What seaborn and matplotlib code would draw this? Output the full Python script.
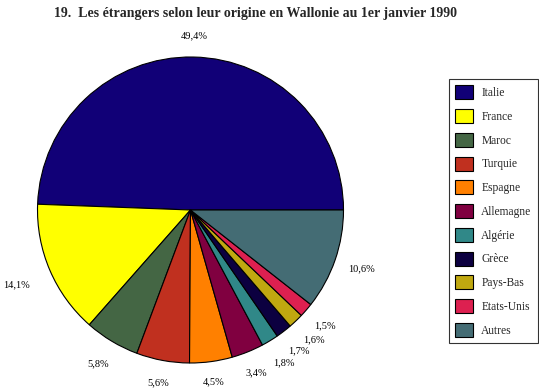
import matplotlib
matplotlib.use("Agg")
import matplotlib.pyplot as plt
import matplotlib.patches as mpatches
import seaborn as sns

countries = ["Italie", "France", "Maroc", "Turquie", "Espagne", "Allemagne",
             "Algérie", "Grèce", "Pays-Bas", "Etats-Unis", "Autres"]
shares = [49.4, 14.1, 5.8, 5.6, 4.5, 3.4, 1.8, 1.7, 1.6, 1.5, 10.6]
colors = ["#110077", "#ffff00", "#446644", "#c0301f", "#ff8000", "#800040",
          "#308888", "#0c0040", "#c0a810", "#dd2050", "#446c74"]
pct_labels = [f"{v:.1f}%".replace(".", ",") for v in shares]
# how far out each percentage sits (in radii)
label_dist = [1.14, 1.24, 1.17, 1.15, 1.13, 1.15, 1.17, 1.16, 1.17, 1.16, 1.18]

sns.set_theme(style="white")
plt.rcParams["font.family"] = ["Liberation Serif", "DejaVu Serif"]

fig = plt.figure(figsize=(5.39, 3.90), dpi=100)
fig.patch.set_facecolor("white")

# pie centred around (190, 210) px with a radius of ~153 px
cx, cy, r = 190.5, 210, 153
ax = fig.add_axes([(cx - r) / 539, (390 - cy - r) / 390, 2 * r / 539, 2 * r / 390])
wedges, texts = ax.pie(shares, colors=colors, labels=pct_labels, startangle=0,
                       counterclock=True, labeldistance=1.15,
                       wedgeprops=dict(edgecolor="black", linewidth=0.8),
                       textprops=dict(fontsize=7.5, color="black"))
for w, t, d in zip(wedges, texts, label_dist):
    x, y = t.get_position()
    scale = d / 1.15
    t.set_position((x * scale, y * scale))
    t.set_ha("center")
    t.set_va("center")
ax.set_xlim(-1, 1)
ax.set_ylim(-1, 1)
ax.set_aspect("equal")
ax.axis("off")

fig.text(256 / 539, 1 - 13 / 390, "19.  Les étrangers selon leur origine en Wallonie au 1er janvier 1990",
         ha="center", va="center", fontsize=10, fontweight="bold")

handles = [mpatches.Patch(facecolor=c, edgecolor="black", linewidth=0.8) for c in colors]
leg = fig.legend(handles, countries, loc="upper left",
                 bbox_to_anchor=(449 / 539, 1 - 79 / 390), fontsize=8.3,
                 handlelength=1.5, handleheight=1.5, labelspacing=0.84,
                 handletextpad=0.75, borderpad=0.55, borderaxespad=0,
                 fancybox=False, frameon=True)
leg.get_frame().set_edgecolor("black")
leg.get_frame().set_linewidth(0.8)

fig.savefig("out.png", dpi=100, facecolor="white")
